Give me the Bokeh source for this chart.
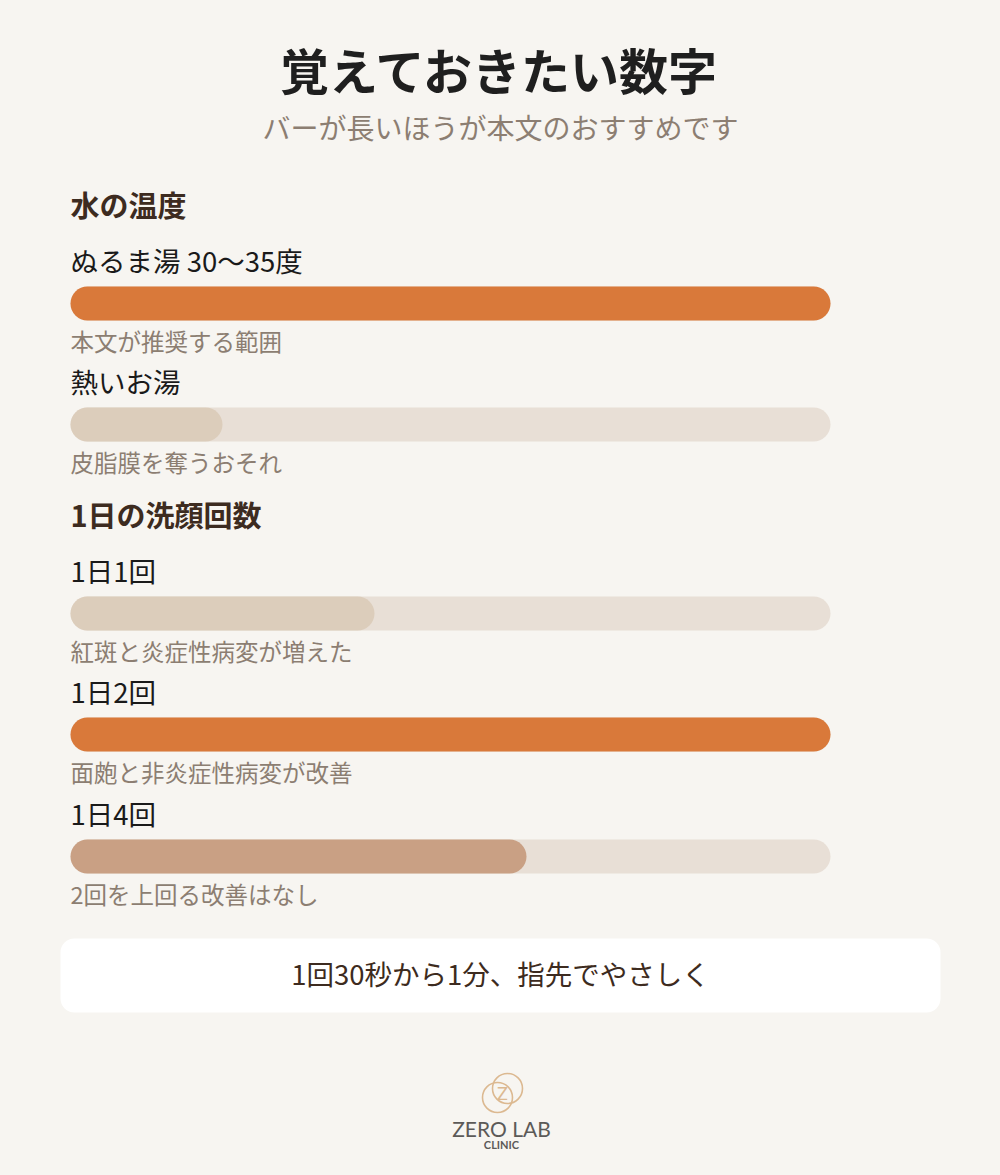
from bokeh.plotting import figure
from bokeh.models import Range1d
from bokeh.core.properties import value
from bokeh.embed import file_html
from bokeh.resources import INLINE

# ---------------- data ----------------
title = "覚えておきたい数字"
subtitle = "バーが長いほうが本文のおすすめです"
sections = ["水の温度", "1日の洗顔回数"]
labels = ["ぬるま湯 30〜35度", "熱いお湯", "1日1回", "1日2回", "1日4回"]
values = [1.0, 0.2, 0.4, 1.0, 0.6]
notes = ["本文が推奨する範囲", "皮脂膜を奪うおそれ", "紅斑と炎症性病変が増えた",
         "面皰と非炎症性病変が改善", "2回を上回る改善はなし"]
tip = "1回30秒から1分、指先でやさしく"
brand = "ZERO LAB"
brand_sub = "CLINIC"

# ---------------- style ----------------
BG = "#f7f5f1"
FONT = value("Noto Sans CJK JP")
bar_colors = ["#d9793a", "#dccdbb", "#dccdbb", "#d9793a", "#c9a084"]
TRACK = "#e8dfd6"

W, H = 984, 1159
p = figure(width=W, height=H, output_backend="svg", toolbar_location=None,
           x_range=Range1d(0, W), y_range=Range1d(H, 0), min_border=0)
p.axis.visible = False
p.grid.visible = False
p.outline_line_color = None
p.background_fill_color = BG
p.border_fill_color = BG

X0, XW = 70, 760  # track start / length
DY = -3           # text vertical adjustment

p.text(x=[500], y=[72 + DY - 1], text=[title], text_font=FONT, text_font_size="49px",
       text_font_style="bold", text_color="#1f1f1f", text_align="center", text_baseline="middle")
p.text(x=[500], y=[129 + DY], text=[subtitle], text_font=FONT, text_font_size="28px",
       text_color="#8c7e72", text_align="center", text_baseline="middle")

# layout of rows
sec_y = [206, 516]
row_label_y = [262, 383, 572, 693, 815]

p.text(x=[X0] * len(sections), y=[s + DY for s in sec_y], text=sections, text_font=FONT,
       text_font_size="29px", text_font_style="bold", text_color="#3d2b20",
       text_align="left", text_baseline="middle")

bar_y = [ly + 41 for ly in row_label_y]
note_y = [ly + 81 + DY for ly in row_label_y]

p.text(x=[X0] * len(labels), y=[ly + DY for ly in row_label_y], text=labels, text_font=FONT,
       text_font_size="27.5px", text_color="#1a1a1a", text_align="left", text_baseline="middle")

# track
p.hbar(y=bar_y, left=[X0] * len(values), right=[X0 + XW] * len(values), height=34,
       fill_color=TRACK, line_color=None, border_radius=17)
# values
p.hbar(y=bar_y, left=[X0] * len(values), right=[X0 + v * XW for v in values], height=34,
       fill_color=bar_colors, line_color=None, border_radius=17)

p.text(x=[X0] * len(notes), y=note_y, text=notes, text_font=FONT, text_font_size="23.5px",
       text_color="#8c7e72", text_align="left", text_baseline="middle")

# tip box
p.hbar(y=[975], left=[60], right=[940], height=74, fill_color="#ffffff", line_color=None,
       border_radius=14)
p.text(x=[500], y=[975 + DY], text=[tip], text_font=FONT, text_font_size="27.5px",
       text_color="#3d2b20", text_align="center", text_baseline="middle")

# logo
p.circle(x=[497, 507], y=[1097, 1088], radius=15, fill_color=None,
         line_color="#dcb991", line_width=1.6)
p.text(x=[502], y=[1092], text=["Z"], text_font=value("Lato"), text_font_size="18px",
       text_color="#dcb991", text_align="center", text_baseline="middle")
p.text(x=[501], y=[1128], text=[brand], text_font=value("Lato"), text_font_size="21px",
       text_color="#5c5a58", text_align="center", text_baseline="middle")
p.text(x=[501], y=[1144], text=[brand_sub], text_font=value("Lato"), text_font_size="11px",
       text_font_style="bold", text_color="#5c5a58", text_align="center", text_baseline="middle")

html = file_html(p, INLINE)
html = html.replace("<head>", "<head><style>body{background:%s;}</style>" % BG, 1)
open("out.html", "w").write(html)
